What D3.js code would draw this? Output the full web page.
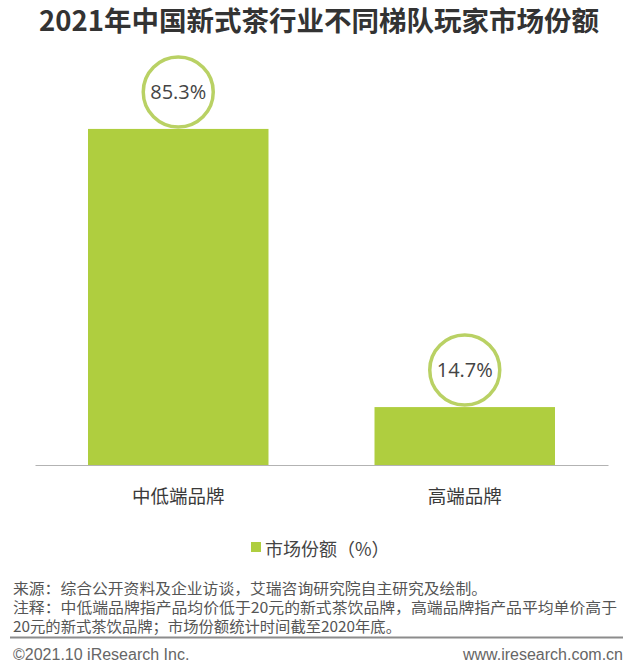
<!DOCTYPE html>
<html>
<head>
<meta charset="utf-8">
<script src="https://cdn.jsdelivr.net/npm/d3@7"></script>
<style>
  html, body { margin: 0; padding: 0; background: #fff; }
  svg { display: block; }
</style>
</head>
<body>
<svg id="chart" width="640" height="669"></svg>
<script>
const title = "2021年中国新式茶行业不同梯队玩家市场份额";
const categories = ["中低端品牌", "高端品牌"];
const values = [85.3, 14.7];
const valueLabels = ["85.3%", "14.7%"];
const seriesName = "市场份额（%）";
const footnotes = [
  "来源：综合公开资料及企业访谈，艾瑞咨询研究院自主研究及绘制。",
  "注释：中低端品牌指产品均价低于20元的新式茶饮品牌，高端品牌指产品平均单价高于",
  "20元的新式茶饮品牌；市场份额统计时间截至2020年底。"
];
const copyright = "©2021.10 iResearch Inc.";
const website = "www.iresearch.com.cn";

const svg = d3.select("#chart");
const cjk = "'Noto Sans CJK SC', 'Noto Sans', sans-serif";
const barColor = "#afce3f";
const ringColor = "#b9d164";

svg.append("text")
  .attr("x", 319).attr("y", 31)
  .attr("text-anchor", "middle")
  .attr("font-family", cjk)
  .attr("font-weight", "bold")
  .attr("font-size", 27.5)
  .attr("fill", "#333")
  .text(title);

const x = d3.scaleBand()
  .domain(categories)
  .range([35, 608])
  .paddingInner(0.37)
  .paddingOuter(0.185);

const y = d3.scaleLinear().domain([0, 100]).range([465, 71]);

svg.append("g").selectAll("rect")
  .data(values)
  .join("rect")
  .attr("x", (d, i) => x(categories[i]))
  .attr("y", d => y(d))
  .attr("width", x.bandwidth())
  .attr("height", d => y(0) - y(d))
  .attr("fill", barColor);

// axis baseline
const xAxis = d3.axisBottom(x).tickSize(0).tickPadding(0).tickSizeOuter(0);
const ax = svg.append("g").attr("transform", `translate(0,${y(0)})`).call(xAxis);
ax.select(".domain").attr("stroke", "#b3b3b3").attr("stroke-width", 1.2);
ax.selectAll(".tick text")
  .attr("dy", null)
  .attr("y", 38)
  .attr("font-family", cjk)
  .attr("font-size", 18.5)
  .attr("fill", "#3a3a3a");

// circle labels
const r = 35;
const lab = svg.append("g").selectAll("g")
  .data(values)
  .join("g")
  .attr("transform", (d, i) => `translate(${x(categories[i]) + x.bandwidth() / 2},${y(d) - r - 2})`);
lab.append("circle")
  .attr("r", r)
  .attr("fill", "#fff")
  .attr("stroke", ringColor)
  .attr("stroke-width", 3.5);
lab.append("text")
  .attr("text-anchor", "middle")
  .attr("y", 7)
  .attr("font-family", "'Open Sans', sans-serif")
  .attr("font-size", 20)
  .attr("fill", "#444")
  .text((d, i) => valueLabels[i]);

// legend
svg.append("rect")
  .attr("x", 251).attr("y", 542)
  .attr("width", 10).attr("height", 10)
  .attr("fill", barColor);
svg.append("text")
  .attr("x", 265).attr("y", 556)
  .attr("font-family", cjk)
  .attr("font-size", 18)
  .attr("fill", "#444")
  .text(seriesName);

// footnotes
const fy = [594, 613, 632];
footnotes.forEach((t, i) => {
  const el = svg.append("text")
    .attr("x", 13).attr("y", fy[i])
    .attr("font-family", cjk)
    .attr("font-size", 15)
    .attr("fill", "#555")
    .text(t);
  if (i === 1) el.attr("textLength", 604).attr("lengthAdjust", "spacingAndGlyphs");
  if (i === 0) el.attr("textLength", 474).attr("lengthAdjust", "spacingAndGlyphs");
  if (i === 2) el.attr("textLength", 388).attr("lengthAdjust", "spacingAndGlyphs");
});
svg.append("line")
  .attr("x1", 10).attr("x2", 623)
  .attr("y1", 637.5).attr("y2", 637.5)
  .attr("stroke", "#8c8c8c")
  .attr("stroke-width", 2);

svg.append("text")
  .attr("x", 13).attr("y", 660)
  .attr("font-family", "'Liberation Sans', Arial, sans-serif")
  .attr("font-size", 16)
  .attr("fill", "#666")
  .text(copyright);
svg.append("text")
  .attr("x", 623).attr("y", 660)
  .attr("text-anchor", "end")
  .attr("font-family", "'Liberation Sans', Arial, sans-serif")
  .attr("font-size", 16)
  .attr("fill", "#666")
  .text(website);
</script>
</body>
</html>
